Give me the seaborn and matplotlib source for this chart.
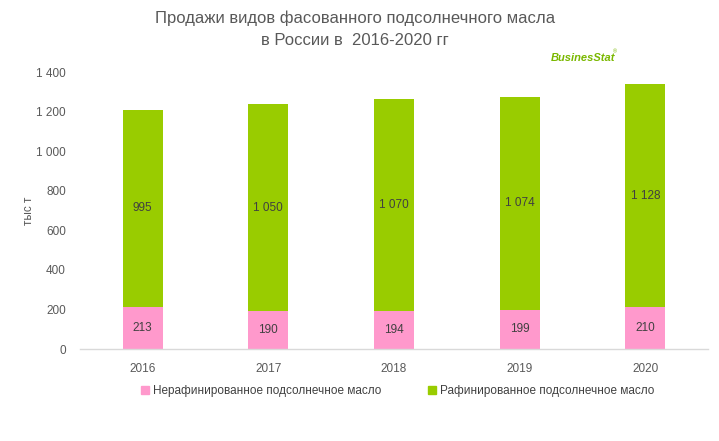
import matplotlib
matplotlib.use("Agg")
import matplotlib.pyplot as plt
import seaborn as sns
import pandas as pd
from matplotlib.patches import Patch

years = ["2016", "2017", "2018", "2019", "2020"]
unrefined = [213, 190, 194, 199, 210]
refined = [995, 1050, 1070, 1074, 1128]
refined_labels = ["995", "1 050", "1 070", "1 074", "1 128"]
yticks = [0, 200, 400, 600, 800, 1000, 1200, 1400]
ytick_labels = ["0", "200", "400", "600", "800", "1 000", "1 200", "1 400"]

pink = "#FF99CC"
green = "#99CC00"

sns.set_theme(style="white")
plt.rcParams["font.family"] = ["Liberation Sans", "DejaVu Sans"]

df = pd.DataFrame({"year": years, "unrefined": unrefined, "refined": refined})
df["total"] = df["unrefined"] + df["refined"]

fig = plt.figure(figsize=(7.19, 4.41), dpi=100)
ax = fig.add_axes([0.111, 0.2086, 0.874, 0.628])

# сначала общая высота (зелёный), сверху розовый нижний сегмент
sns.barplot(data=df, x="year", y="total", color=green, width=0.32, saturation=1,
            linewidth=0, ax=ax)
sns.barplot(data=df, x="year", y="unrefined", color=pink, width=0.32, saturation=1,
            linewidth=0, ax=ax)

for i, (u, r) in enumerate(zip(unrefined, refined)):
    ax.text(i, u / 2, str(u), ha="center", va="center", fontsize=8.5, color="#404040")
    ax.text(i, u + r / 2, refined_labels[i], ha="center", va="center", fontsize=8.5, color="#404040")

ax.set_ylim(0, 1400)
ax.set_xlim(-0.5, 4.5)
ax.set_yticks(yticks)
ax.set_yticklabels(ytick_labels)
ax.tick_params(axis="both", labelsize=8.5, colors="#595959", length=0, pad=10)
ax.set_xlabel("")
ax.set_ylabel("тыс т", fontsize=8.5, color="#595959")
ax.yaxis.set_label_coords(-0.072, 0.5)
for s in ["top", "right", "left"]:
    ax.spines[s].set_visible(False)
ax.spines["bottom"].set_color("#D9D9D9")
ax.spines["bottom"].set_linewidth(1)

fig.text(0.494, 0.959, "Продажи видов фасованного подсолнечного масла", ha="center", va="center",
         fontsize=12, color="#595959")
fig.text(0.494, 0.909, "в России в  2016-2020 гг", ha="center", va="center",
         fontsize=12, color="#595959")

# логотип
fig.text(0.766, 0.869, "BusinesStat", ha="left", va="center", fontsize=8, color="#7AB800",
         fontweight="bold", fontstyle="italic")
fig.text(0.852, 0.880, "®", fontsize=4, color="#7AB800")

handles = [Patch(color=pink), Patch(color=green)]
fig.legend(handles, ["Нерафинированное подсолнечное масло", "Рафинированное подсолнечное масло"],
           loc="center", bbox_to_anchor=(0.553, 0.113), ncol=2, frameon=False, fontsize=8.5,
           handlelength=0.7, handleheight=0.7, columnspacing=4, handletextpad=0.3,
           labelcolor="#404040")

fig.savefig("out.png", dpi=100)
